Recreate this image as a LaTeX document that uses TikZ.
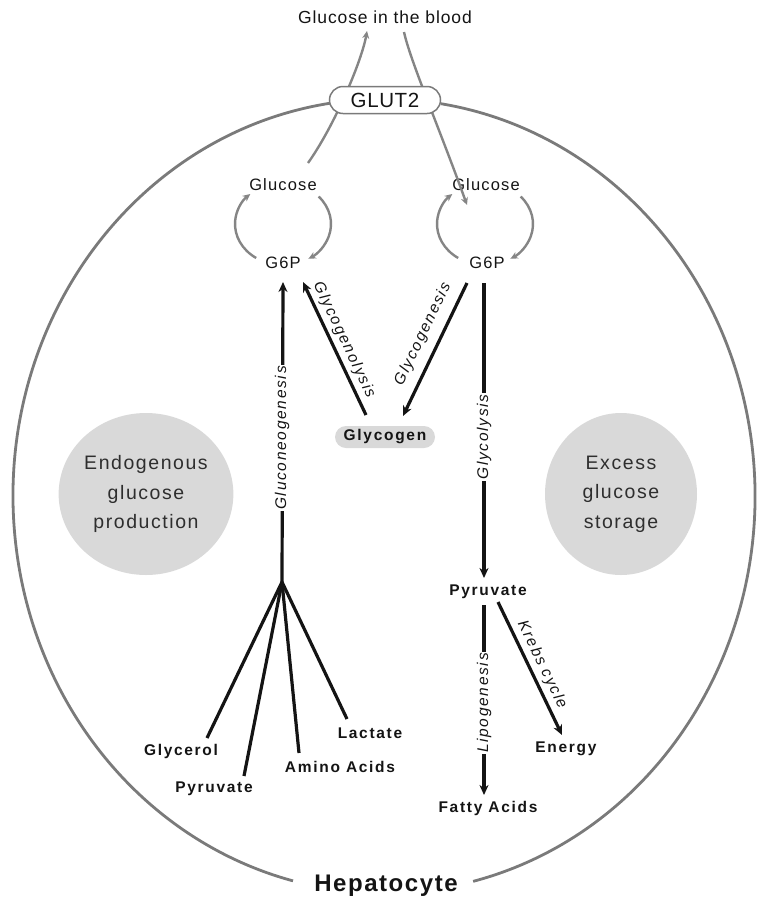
\documentclass[tikz,border=0pt]{standalone}
\usepackage{fontspec}
\setmainfont{Liberation Sans}
\newfontfamily\trkA[LetterSpace=7]{Liberation Sans}
\newfontfamily\trkB[LetterSpace=11]{Liberation Sans}
\newfontfamily\trkC[LetterSpace=5]{Liberation Sans}
\newfontfamily\trkD[LetterSpace=3]{Liberation Sans}
\newfontfamily\trkE[LetterSpace=6.5]{Liberation Sans}
\newfontfamily\trkF[LetterSpace=8]{Liberation Sans}
\usetikzlibrary{arrows.meta,shapes.misc,shapes.geometric,calc}
\definecolor{ink}{HTML}{141414}
\definecolor{ink2}{HTML}{2E2E2E}
\definecolor{memb}{HTML}{7A7A7A}
\definecolor{garr}{HTML}{858585}
\definecolor{discgrey}{HTML}{D9D9D9}
\tikzset{
  txt/.style={inner sep=1pt, text=ink},
  reglbl/.style={txt, font=\trkA\fontsize{16.5}{19}\selectfont},
  boldlbl/.style={txt, font=\trkB\bfseries\fontsize{15.5}{18}\selectfont},
  pathlbl/.style={txt, font=\trkB\itshape\fontsize{15.5}{18}\selectfont, inner sep=1.5pt},
  disctext/.style={ellipse, fill=discgrey, inner sep=0pt, minimum width=152pt, minimum height=162pt,
     align=center, text=ink2, font=\trkF\fontsize{19.5}{29.5}\selectfont},
  membrane/.style={draw=memb, line width=2.8pt},
  garrow/.style={draw=garr, line width=2.4pt, -{Stealth[length=7.5pt,width=7pt]}},
  barrow/.style={draw=ink, line width=3.2pt, -{Stealth[length=10pt,width=9pt]}},
  bline/.style={draw=ink, line width=3.2pt}
}
\begin{document}
\begin{tikzpicture}[x=1pt,y=1pt]
\useasboundingbox (0,0) rectangle (759,-898);

% discs
\node[disctext] (endo) at (146,-494) {Endogenous\\glucose\\production};
\node[disctext] (excess) at (621,-494) {Excess\\glucose\\storage};

% cell membrane
\coordinate (cellc) at (384,-496);
\draw[membrane] (cellc) ++(98.4:371pt and 397pt) arc[start angle=98.4, end angle=255.8, x radius=371pt, y radius=397pt];
\draw[membrane] (cellc) ++(283.9:371pt and 397pt) arc[start angle=283.9, end angle=441.2, x radius=371pt, y radius=397pt];

% text nodes
\node[txt, font=\trkC\fontsize{17.5}{20}\selectfont] (blood) at (385,-17) {Glucose in the blood};
\node[reglbl] (glcL) at (283,-185) {Glucose};
\node[reglbl] (glcR) at (486,-185) {Glucose};
\node[reglbl] (g6pL) at (283,-263) {G6P};
\node[reglbl] (g6pR) at (487,-263) {G6P};

% glucose transport through GLUT2
\draw[garrow] ($(glcL)+(25,22)$) .. controls (335,-125) and (362,-60) .. ($(blood)+(-18,-14)$);
\draw[garrow] ($(blood)+(19,-15)$) .. controls (410,-60) and (440,-130) .. ($(glcR)+(-19,-20)$);
\node[rounded rectangle, draw=memb, line width=1.5pt, fill=white, minimum width=111pt, minimum height=27pt,
      inner sep=0pt, text=ink, font=\trkD\fontsize{20.5}{22}\selectfont] (glut) at (385,-100) {GLUT2};

% glucose / G6P cycles
\coordinate (cycL) at (283,-224);
\coordinate (cycR) at (485,-224);
\draw[garrow] (cycL) ++(236:48pt and 41pt) arc[start angle=236, end angle=133, x radius=48pt, y radius=41pt];
\draw[garrow] (cycL) ++(42:48pt and 41pt) arc[start angle=42, end angle=-58, x radius=48pt, y radius=41pt];
\draw[garrow] (cycR) ++(236:48pt and 41pt) arc[start angle=236, end angle=133, x radius=48pt, y radius=41pt];
\draw[garrow] (cycR) ++(42:48pt and 41pt) arc[start angle=42, end angle=-58, x radius=48pt, y radius=41pt];

% glycogen
\node[rounded rectangle, fill=discgrey, minimum width=100pt, minimum height=22pt, inner sep=0pt,
      text=ink, font=\trkB\bfseries\fontsize{15.5}{18}\selectfont] (glyc) at (385,-437) {Glycogen};

% products
\node[boldlbl] (pyrR) at (488,-592) {Pyruvate};
\node[boldlbl] (fatty) at (488,-808) {Fatty Acids};
\node[boldlbl] (energy) at (566,-749) {Energy};
\node[boldlbl] (glycerol) at (181,-751) {Glycerol};
\node[boldlbl] (pyrL) at (214,-789) {Pyruvate};
\node[boldlbl] (amino) at (340,-767) {Amino Acids};
\node[boldlbl] (lactate) at (370,-733) {Lactate};
\node[txt, font=\trkE\bfseries\fontsize{24}{27}\selectfont] (hep) at (386,-886) {Hepatocyte};

% gluconeogenesis
\coordinate (branch) at (282,-582);
\draw[barrow] (branch) -- ($(g6pL)+(0,-19)$);
\node[pathlbl, fill=white, rotate=90] (lgng) at (282,-438) {Gluconeogenesis};
\draw[bline] (branch) -- ($(glycerol)+(26,13)$);
\draw[bline] (branch) -- ($(pyrL)+(30,13)$);
\draw[bline] (branch) -- ($(amino)+(-41,14)$);
\draw[bline] (branch) -- ($(lactate)+(-23,14)$);

% glycogenolysis / glycogenesis
\draw[barrow] ($(glyc)+(-19,22)$) -- ($(g6pL)+(20,-19)$);
\node[pathlbl, rotate=-64.7] (lgnl) at (344,-340) {Glycogenolysis};
\draw[barrow] ($(g6pR)+(-20,-20)$) -- ($(glyc)+(18,21)$);
\node[pathlbl, rotate=64.3] (lgns) at (423,-334) {Glycogenesis};

% glycolysis
\draw[barrow] ($(g6pR)+(-3,-20)$) -- ($(pyrR)+(-4,14)$);
\node[pathlbl, fill=white, rotate=90] (lgly) at (484,-437) {Glycolysis};

% lipogenesis and Krebs cycle
\draw[barrow] ($(pyrR)+(-4,-13)$) -- ($(fatty)+(-4,13)$);
\node[pathlbl, fill=white, rotate=90] (llip) at (484,-703) {Lipogenesis};
\draw[barrow] ($(pyrR)+(10,-10)$) -- ($(energy)+(-4,14)$);
\node[pathlbl, rotate=-64.3] (lkrb) at (542,-665) {Krebs cycle};
\end{tikzpicture}
\end{document}
